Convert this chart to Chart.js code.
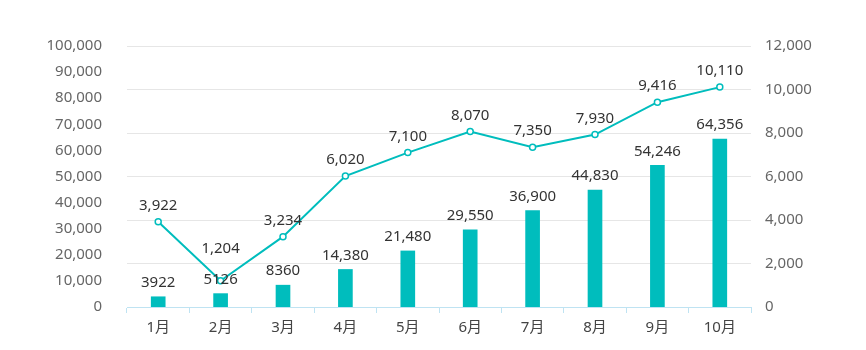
<!DOCTYPE html>
<html lang="zh">
<head>
    <meta charset="UTF-8">
    <title>月度数据</title>
    <script src="https://cdn.jsdelivr.net/npm/chart.js"></script>
    <style>
        html, body { margin: 0; padding: 0; background: #fff; }
        .chart-box { width: 866px; height: 350px; }
    </style>
</head>
<body>
    <div class="chart-box">
        <canvas id="mainChart"></canvas>
    </div>

    <script>
        // 数据
        const months = ['1月', '2月', '3月', '4月', '5月', '6月', '7月', '8月', '9月', '10月'];
        const barValues = [3922, 5126, 8360, 14380, 21480, 29550, 36900, 44830, 54246, 64356];
        const lineValues = [3922, 1204, 3234, 6020, 7100, 8070, 7350, 7930, 9416, 10110];

        const teal = '#00bdbd';
        const fontFamily = '"Noto Sans", "Noto Sans CJK SC", sans-serif';

        function fmt(v) {
            return v.toLocaleString('en-US');
        }
        // bar labels under 10k are shown without a thousands separator
        function fmtBar(v) {
            return v >= 10000 ? fmt(v) : String(v);
        }

        // simple value labels, no datalabels plugin available
        const valueLabels = {
            id: 'valueLabels',
            afterDatasetsDraw(chart) {
                const ctx = chart.ctx;
                const barMeta = chart.getDatasetMeta(0);
                const lineMeta = chart.getDatasetMeta(1);
                ctx.save();
                ctx.font = '15px ' + fontFamily;
                ctx.fillStyle = '#333';
                ctx.textAlign = 'center';
                ctx.textBaseline = 'middle';
                const barLabelY = [];
                barMeta.data.forEach((bar, i) => {
                    const y = bar.y - 14;
                    barLabelY.push(y);
                    ctx.fillText(fmtBar(barValues[i]), bar.x, y);
                });
                lineMeta.data.forEach((pt, i) => {
                    let y = pt.y - 16;
                    // push up if it would sit on top of the bar label
                    if (Math.abs(y - barLabelY[i]) < 18) {
                        y = barLabelY[i] - 31;
                    }
                    ctx.fillText(fmt(lineValues[i]), pt.x, y);
                });
                ctx.restore();
            }
        };

        const ctx = document.getElementById('mainChart').getContext('2d');
        const chart = new Chart(ctx, {
            type: 'bar',
            data: {
                labels: months,
                datasets: [{
                    type: 'bar',
                    data: barValues,
                    backgroundColor: teal,
                    barThickness: 14,
                    yAxisID: 'y',
                    order: 2
                }, {
                    type: 'line',
                    data: lineValues,
                    borderColor: teal,
                    borderWidth: 2,
                    pointRadius: 3,
                    pointBorderWidth: 1.5,
                    pointBackgroundColor: '#fff',
                    pointBorderColor: teal,
                    tension: 0,
                    yAxisID: 'y1',
                    order: 1
                }]
            },
            options: {
                responsive: true,
                maintainAspectRatio: false,
                animation: false,
                layout: { padding: { top: 46, bottom: 0, left: 0, right: 0 } },
                plugins: {
                    legend: { display: false },
                    tooltip: { enabled: false }
                },
                scales: {
                    x: {
                        offset: true,
                        grid: {
                            offset: true,
                            drawOnChartArea: false,
                            color: '#bfe3f2',
                            tickLength: 6
                        },
                        border: { color: '#bfe3f2' },
                        ticks: {
                            color: '#444',
                            padding: 6,
                            font: { size: 15, family: fontFamily }
                        },
                        afterFit(scale) { scale.height = 43; }
                    },
                    y: {
                        position: 'left',
                        min: 0,
                        max: 100000,
                        grid: { display: false },
                        border: { display: false },
                        ticks: {
                            stepSize: 10000,
                            color: '#666',
                            padding: 17,
                            font: { size: 15, family: fontFamily },
                            callback: v => fmt(v)
                        },
                        afterFit(scale) { scale.width = 127; }
                    },
                    y1: {
                        position: 'right',
                        min: 0,
                        max: 12000,
                        grid: { color: '#e6e6e6', drawTicks: false },
                        border: { display: false },
                        ticks: {
                            stepSize: 2000,
                            color: '#666',
                            padding: 14,
                            font: { size: 15, family: fontFamily },
                            callback: v => fmt(v)
                        },
                        afterFit(scale) { scale.width = 115; }
                    }
                }
            },
            plugins: [valueLabels]
        });
    </script>
</body>
</html>
